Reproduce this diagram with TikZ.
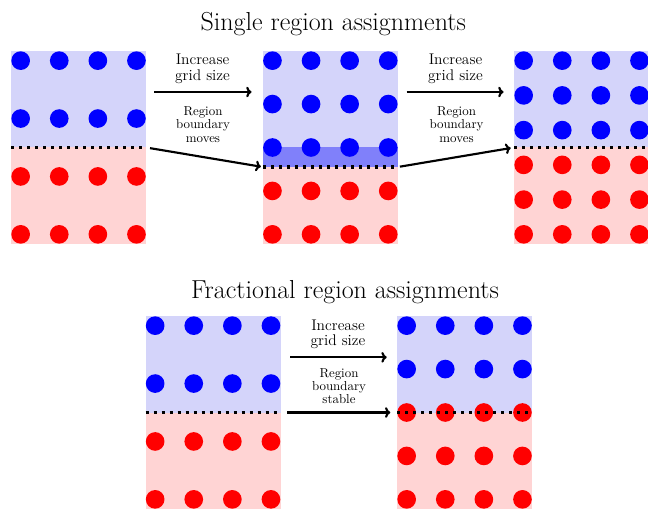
\documentclass[tikz,border=0pt]{standalone}
\usetikzlibrary{arrows.meta}
\definecolor{lblue}{RGB}{212,212,250}
\definecolor{lred}{RGB}{255,212,212}
\definecolor{mblue}{RGB}{128,128,250}
\newcommand{\dotrows}[4]{% #1 left, #2 top, #3 number of rows, #4 number of blue rows
  \foreach \j in {1,...,#3}{%
    \pgfmathsetmacro{\yy}{#2+9.65+(\j-1)*173.7/(#3-1)}%
    \pgfmathtruncatemacro{\isblue}{\j<=#4 ? 1 : 0}%
    \foreach \k in {0,...,3}{%
      \pgfmathsetmacro{\xx}{#1+9.65+\k*38.6}%
      \ifnum\isblue=1
        \fill[blue] (\xx,\yy) circle[radius=7pt];
      \else
        \fill[red] (\xx,\yy) circle[radius=7pt];
      \fi
    }%
  }%
}
\begin{document}
\begin{tikzpicture}[x=0.75pt,y=-0.75pt,
  bnd/.style={line width=2.5pt,dash pattern=on 2.5pt off 3.5pt},
  arr/.style={line width=1.6pt,-{To[length=4pt,width=8pt]}},
  ttl/.style={font=\fontsize{19.5}{23}\selectfont,inner sep=0pt,anchor=base},
  lbla/.style={font=\fontsize{11.6}{11.6}\selectfont,align=center,inner sep=0pt},
  lblb/.style={font=\fontsize{9.7}{10}\selectfont,align=center,inner sep=0pt}]
\useasboundingbox (0,0) rectangle (648,509);

% titles
\node[ttl] (t1) at (333.3,31) {Single region assignments};
\node[ttl] (t2) at (345,298) {Fractional region assignments};

% panel A (top left)
\fill[lblue] (11,51) rectangle (146.1,147.5);
\fill[lred] (11,147.5) rectangle (146.1,244);
\dotrows{11}{51}{4}{2}
\coordinate (Al) at (11,147.5);
\coordinate (Ar) at (146.1,147.5);
\draw[bnd] (Al) -- (Ar);

% panel B (top middle)
\fill[lblue] (262.8,51) rectangle (397.9,147.5);
\fill[mblue] (262.8,147.5) rectangle (397.9,167);
\fill[lred] (262.8,167) rectangle (397.9,244);
\dotrows{262.8}{51}{5}{3}
\coordinate (Bl) at (262.8,167);
\coordinate (Br) at (397.9,167);
\draw[bnd] (Bl) -- (Br);

% panel C (top right)
\fill[lblue] (514,51) rectangle (649.1,147.5);
\fill[lred] (514,147.5) rectangle (649.1,244);
\dotrows{514}{51}{6}{3}
\coordinate (Cl) at (514,147.5);
\coordinate (Cr) at (649.1,147.5);
\draw[bnd] (Cl) -- (Cr);

% panel D (bottom left)
\fill[lblue] (145.5,316) rectangle (280.6,412.5);
\fill[lred] (145.5,412.5) rectangle (280.6,509);
\dotrows{145.5}{316}{4}{2}
\coordinate (Dl) at (145.5,412.5);
\coordinate (Dr) at (280.6,412.5);
\draw[bnd] (Dl) -- (Dr);

% panel E (bottom right)
\fill[lblue] (397,316) rectangle (532.1,412.5);
\fill[lred] (397,412.5) rectangle (532.1,509);
\dotrows{397}{316}{5}{2}
\coordinate (El) at (397,412.5);
\coordinate (Er) at (532.1,412.5);
\draw[bnd] (El) -- (Er);

% arrows top
\coordinate (g1s) at (154,92);
\coordinate (g1e) at (251.5,92);
\draw[arr] (g1s) -- (g1e);
\draw[arr,shorten <=3pt,shorten >=1.5pt] (Ar) -- (Bl);
\coordinate (g2s) at (406.5,92);
\coordinate (g2e) at (503.5,92);
\draw[arr] (g2s) -- (g2e);
\draw[arr,shorten <=1.5pt,shorten >=2.5pt] (Br) -- (Cl);

% arrows bottom
\coordinate (g3s) at (290,357.3);
\coordinate (g3e) at (386.7,357.3);
\draw[arr] (g3s) -- (g3e);
\draw[arr,shorten <=5pt,shorten >=5pt] (Dr) -- (El);

% labels
\node[lbla] (l1) at (202.5,69) {Increase\\grid size};
\node[lblb] (l2) at (203,124.5) {Region\\boundary\\moves};
\node[lbla] (l3) at (455.5,69) {Increase\\grid size};
\node[lblb] (l4) at (456.5,124.5) {Region\\boundary\\moves};
\node[lbla] (l5) at (338,334.5) {Increase\\grid size};
\node[lblb] (l6) at (339,386) {Region\\boundary\\stable};
\end{tikzpicture}
\end{document}
